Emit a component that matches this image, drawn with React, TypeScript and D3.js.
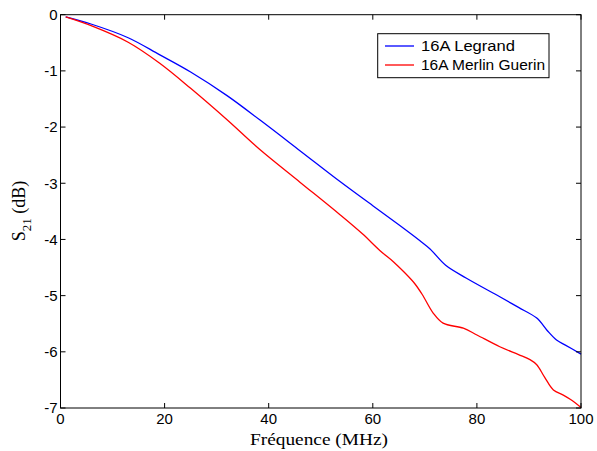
import React, { useEffect, useRef } from "react";
import * as d3 from "d3";

const blueFreq = [1, 6, 13, 19, 25, 32, 38.4, 46, 53.7, 60, 65, 69, 71, 74, 78, 84.4, 88, 91.5, 93.5, 95.3, 97, 100];
const blueVals = [-0.04, -0.17, -0.41, -0.71, -1.02, -1.44, -1.88, -2.42, -2.97, -3.4, -3.74, -4.02, -4.17, -4.46, -4.69, -5.02, -5.21, -5.4, -5.62, -5.79, -5.88, -6.04];
const redFreq = [1, 6, 13, 19, 25, 32, 38.3, 46, 53.7, 58, 61.4, 64, 66, 68, 69.5, 71.6, 73.5, 77.4, 80, 84.4, 88, 90.2, 91.5, 93, 94.7, 96.6, 98, 100];
const redVals = [-0.04, -0.2, -0.49, -0.86, -1.31, -1.87, -2.4, -2.98, -3.56, -3.9, -4.2, -4.4, -4.58, -4.78, -4.98, -5.31, -5.49, -5.58, -5.7, -5.91, -6.05, -6.14, -6.23, -6.45, -6.68, -6.77, -6.85, -6.99];
const xTicks = [0, 20, 40, 60, 80, 100];
const yTicks = [0, -1, -2, -3, -4, -5, -6, -7];
const seriesNames = ["16A Legrand", "16A Merlin Guerin"];
const seriesColors = ["#0000ff", "#ff0000"];
const legendWidths = [94, 124];

export default function App() {
  const ref = useRef<SVGSVGElement>(null);
  useEffect(() => {
    const svg = d3.select(ref.current);
    svg.selectAll("*").remove();
    const L = 60.5, R = 581, T = 14.7, B = 408;
    const x = d3.scaleLinear().domain([0, 100]).range([L, R]);
    const y = d3.scaleLinear().domain([-7, 0]).range([B, T]);
    const font = "Arial, 'Liberation Sans', sans-serif";
    const serif = "'Times New Roman', 'Liberation Serif', serif";

    const line = d3.line<[number, number]>().x(d => x(d[0])).y(d => y(d[1])).curve(d3.curveCatmullRom.alpha(0.5));
    const series = [
      blueFreq.map((f, i) => [f, blueVals[i]] as [number, number]),
      redFreq.map((f, i) => [f, redVals[i]] as [number, number]),
    ];
    series.forEach((s, i) => {
      svg.append("path").attr("d", line(s)!).attr("fill", "none")
        .attr("stroke", seriesColors[i]).attr("stroke-width", 1.3);
    });

    svg.append("rect").attr("x", L).attr("y", T).attr("width", R - L).attr("height", B - T)
      .attr("fill", "none").attr("stroke", "#000").attr("stroke-width", 1);

    const tl = 5;
    xTicks.forEach(t => {
      const px = x(t);
      svg.append("line").attr("x1", px).attr("x2", px).attr("y1", B).attr("y2", B - tl).attr("stroke", "#000");
      svg.append("line").attr("x1", px).attr("x2", px).attr("y1", T).attr("y2", T + tl).attr("stroke", "#000");
      svg.append("text").attr("x", px).attr("y", 423.5).attr("text-anchor", "middle")
        .attr("font-family", font).attr("font-size", 15).text(String(t));
    });
    yTicks.forEach(t => {
      const py = y(t);
      svg.append("line").attr("x1", L).attr("x2", L + tl).attr("y1", py).attr("y2", py).attr("stroke", "#000");
      svg.append("line").attr("x1", R).attr("x2", R - tl).attr("y1", py).attr("y2", py).attr("stroke", "#000");
      svg.append("text").attr("x", 57.5).attr("y", py).attr("dy", "0.35em").attr("text-anchor", "end")
        .attr("font-family", font).attr("font-size", 15).text(String(t));
    });

    svg.append("text").attr("x", 250).attr("y", 445)
      .attr("font-family", serif).attr("font-size", 17)
      .attr("textLength", 138).attr("lengthAdjust", "spacingAndGlyphs").text("Fréquence (MHz)");

    const yl = svg.append("text").attr("transform", "translate(25,211) rotate(-90)")
      .attr("text-anchor", "middle").attr("font-family", serif).attr("font-size", 18);
    yl.append("tspan").text("S");
    yl.append("tspan").attr("font-size", 13).attr("dy", 6).text("21");
    yl.append("tspan").attr("dy", -6).text(" (dB)");

    svg.append("rect").attr("x", 377.7).attr("y", 33.7).attr("width", 171.3).attr("height", 44)
      .attr("fill", "#fff").attr("stroke", "#000").attr("stroke-width", 1);
    seriesNames.forEach((n, i) => {
      const ly = 46 + i * 19;
      svg.append("line").attr("x1", 385).attr("x2", 414).attr("y1", ly).attr("y2", ly)
        .attr("stroke", seriesColors[i]).attr("stroke-width", 1.3);
      svg.append("text").attr("x", 421).attr("y", ly).attr("dy", "0.36em")
        .attr("font-family", font).attr("font-size", 14)
        .attr("textLength", legendWidths[i]).attr("lengthAdjust", "spacingAndGlyphs").text(n);
    });
  }, []);
  return (
    <svg ref={ref} width={597} height={451} style={{ position: "absolute", left: 0, top: 0, background: "#fff" }} />
  );
}
